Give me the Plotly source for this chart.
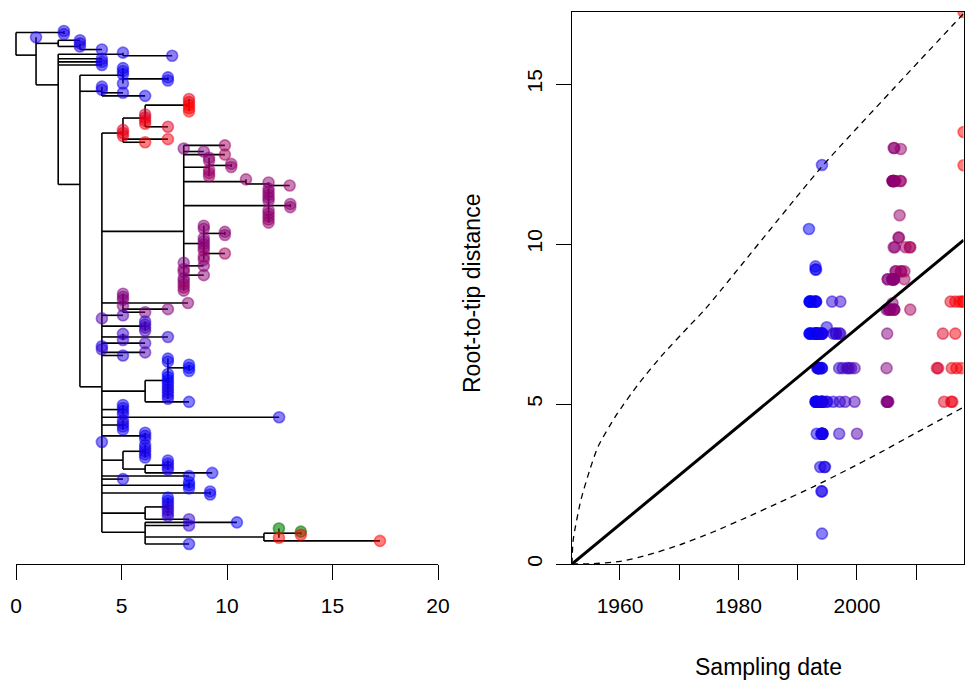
import plotly.graph_objects as go

# ---------------------------------------------------------------- data
# Tree in a Newick-like notation: a tip is "depth/date" ("depth/g" = green tip),
# an internal node is "(children)depth"; depth = root-to-node distance.
TOP_N1 = "(2.27/1994.0,2.27/1994.1)2.27"
TOP_C = "(3.03/1993.8,(3.03/1994.5,3.03/1994.6,4.07/1994.1)3.03)2.0"
TOP_FA = "(5.07/1994.2,7.4/1994.9)5.07"
TOP_FB = "4.07/1994.1,4.07/1994.2,4.07/1993.2"
TOP_F1 = "(5.07/1993.0,5.07/1993.2,5.07/1993.1,(7.2/1993.1,7.2/1993.3)7.2,5.07/1993.4)5.07"
TOP_G1 = "(4.07/1994.0,4.07/1994.1,5.07/1994.0,6.12/1993.3)4.07"

RED = ("(((8.2/2015.8,8.2/2016.6,8.2/2017.3,8.2/2017.8,8.2/2018.0)8.2,6.12/2013.5,6.12/2013.7,"
       "6.12/2016.0,6.12/2016.8,7.2/2014.5)6.12,5.07/2014.7,5.07/2015.9,5.07/2016.1,7.2/2016.6,"
       "6.12/2017.6)5.07")

PURPLE_1 = "9.9/2008.2,7.95/2005.3,8.9/2005.2,9.9/2009.0"
PURPLE_2 = ("(9.15/2006.5,9.15/2006.6,(10.2/2007.0,10.2/2007.1)10.2,9.15/2007.4,9.15/2007.5,"
            "9.15/2008.0)9.15")
PURPLE_3 = "(10.9/2007.2,(11.97/2006.5,12.97/2007.4)11.97)10.9"
PURPLE_4 = ("(11.97/2006.0,11.97/2006.1,11.97/2006.1,11.97/2006.2,11.97/2006.0,"
            "(13.0/2006.2,13.0/2006.3)13.0,11.97/2006.1,11.97/2006.2,11.97/2007.3,"
            "11.97/2006.3,11.97/2007.4)11.97")
PURPLE_5 = ("(8.9/2006.0,8.9/2006.1,(9.9/2006.2,9.9/2006.4)9.9,8.9/2006.2,8.9/2005.2,8.9/2006.0,"
            "8.9/2006.3,8.9/2006.1,9.9/2008.9,8.9/2008.0,8.9/2006.2)8.9")
PURPLE_6 = ("7.95/2005.0,8.9/2006.0,7.95/2005.6,7.95/2006.3,8.9/2006.1,7.95/2005.5,7.95/2006.2,"
            "7.95/2005.7,7.95/2009.0,7.95/2006.3")
PURPLE_SMALL = "(5.07/2005.0,5.07/2005.1,5.07/2005.3,8.15/2006.0,5.07/2005.2,7.2/2005.1,6.12/2005.0)5.07"

MID = ("5.07/1999.6,4.07/2000.0,(6.12/1997.0,6.12/1997.6,6.12/1998.3,6.12/1999.0)6.12,"
       "(5.07/1997.1,7.2/1996.4,5.07/1998.0)5.07,6.12/1998.6,4.07/1994.0,4.07/1997.0,"
       "6.12/1999.6,5.07/1996.0")
LOW_1 = ("((7.2/1993.0,7.2/1993.2,(8.2/1992.0,8.2/1992.1,8.2/1992.3)8.2,7.2/1992.0,7.2/1992.1,"
         "7.2/1992.5,7.2/1993.0,7.2/1993.2,7.2/1993.5,7.2/1994.0,7.2/1994.1,7.2/1994.2)7.2,"
         "8.2/1992.8)6.12")
LOW_2 = ("(5.07/1993.0,5.07/1993.1,5.07/1994.0,5.07/1994.1)5.07,12.47/1994.1,"
         "(5.07/1994.2,5.07/1994.8,5.07/1995.0,5.07/1993.2)5.07")
LOW_3 = "(6.12/1993.5,6.12/1993.6,6.12/1994.0)6.12,4.07/1994.2"
LOW_4 = ("((6.12/1993.4,6.12/1993.6,6.12/1994.0,6.12/1994.1,6.12/1993.5)6.12,"
         "((7.2/1993.0,7.2/1993.4,7.2/1994.0,7.2/1994.1)7.2,9.3/1993.0)6.12)5.07")
LOW_5 = "8.2/1993.1,5.07/1994.0,(8.2/1992.0,8.2/1992.1,8.2/1993.0)8.2,(9.2/1993.0,9.2/1993.1)9.2"
LOW_6 = ("((7.2/1992.0,7.2/1992.2,7.2/1993.0,7.2/1996.0,7.2/1996.5,7.2/1997.0,7.2/1997.2)7.2,"
         "8.2/1997.2)6.12")
LOW_7 = ("(10.47/1991.9,8.2/1995.8,((12.46/g,(13.5/g,13.5/2018.0)13.5,12.46/2018.0)12.46,"
         "17.25/2018.0)11.75,8.2/1993.1)6.12")

DATE_MIN, DATE_MAX = 1991.9, 2018.0

UPPER_DATES = [1951.9, 1952.1, 1953.4, 1954.9, 1956.3, 1959.4, 1963.1, 1967.0, 1971.5,
               1974.4, 1994.0, 2006.0, 2018.0]
UPPER_VALS = [0.0, 0.75, 2.0, 2.94, 3.67, 4.66, 5.62, 6.5, 7.4, 7.97, 12.4, 14.82, 17.2]
LOWER_DATES = [1951.9, 1955.0, 1960.0, 1964.5, 1970.1, 1975.7, 1981.3, 1987.0, 1992.6,
               1998.2, 2003.9, 2009.5, 2018.0]
LOWER_VALS = [0.0, 0.005, 0.08, 0.27, 0.6, 1.0, 1.45, 1.93, 2.41, 2.93, 3.48, 4.05, 4.9]
FIT_DATES = [1951.9, 2018.0]
FIT_VALS = [0.0, 10.12]

TREE_TICKS = [0, 5, 10, 15, 20]
DATE_TICKS = [1960, 1970, 1980, 1990, 2000, 2010]
DATE_TICK_TEXT = ["1960", "", "1980", "", "2000", ""]
DIST_TICKS = [0, 5, 10, 15]

# ---------------------------------------------------------------- assemble tree
TRUNK = "(" + ",".join([RED, "(" + ",".join([PURPLE_1, PURPLE_2, PURPLE_3, PURPLE_4,
                                               PURPLE_5, PURPLE_6]) + ")7.95",
                         PURPLE_SMALL, MID, LOW_1, LOW_2, LOW_3, LOW_4, LOW_5, LOW_6,
                         LOW_7]) + ")4.07"
NODE_G = "(" + TOP_F1 + "," + TOP_G1 + "," + TRUNK + ")3.03"
NODE_F = "(" + TOP_FA + "," + TOP_FB + "," + NODE_G + ")2.0"
NODE_B = "(0.95/1994.1," + TOP_C + "," + NODE_F + ")0.95"
TREE = "(" + TOP_N1 + "," + NODE_B + ")0"


def parse(s):
    pos = 0

    def atom():
        nonlocal pos
        start = pos
        while pos < len(s) and s[pos] not in ",()":
            pos += 1
        return s[start:pos]

    def node():
        nonlocal pos
        if s[pos] == "(":
            pos += 1
            kids = [node()]
            while s[pos] == ",":
                pos += 1
                kids.append(node())
            pos += 1  # ')'
            return {"depth": float(atom()), "kids": kids}
        d, lab = atom().split("/")
        return {"depth": float(d), "label": lab, "kids": []}

    return node()


root = parse(TREE)
tips = []


def layout(n):
    if not n["kids"]:
        n["y"] = len(tips)
        tips.append(n)
        return
    for k in n["kids"]:
        layout(k)
    n["y"] = sum(k["y"] for k in n["kids"]) / len(n["kids"])


layout(root)

seg_x, seg_y = [], []


def segments(n):
    if not n["kids"]:
        return
    ys = [k["y"] for k in n["kids"]]
    seg_x.extend([n["depth"], n["depth"], None])
    seg_y.extend([min(ys), max(ys), None])
    for k in n["kids"]:
        seg_x.extend([n["depth"], k["depth"], None])
        seg_y.extend([k["y"], k["y"], None])
        segments(k)


segments(root)


def tip_color(label, alpha=0.5):
    if label == "g":
        return "rgba(0,128,0,0.6)"
    f = (float(label) - DATE_MIN) / (DATE_MAX - DATE_MIN)
    f = min(1.0, max(0.0, f))
    return "rgba(%d,0,%d,%.2f)" % (round(255 * f), round(255 * (1 - f)), alpha)


tip_x = [t["depth"] for t in tips]
tip_y = [t["y"] for t in tips]
tip_c = [tip_color(t["label"]) for t in tips]
dated = [t for t in tips if t["label"] != "g"]
pt_x = [float(t["label"]) for t in dated]
pt_y = [t["depth"] for t in dated]
pt_c = [tip_color(t["label"]) for t in dated]

# ---------------------------------------------------------------- figure
W, H = 965, 686


def fx(p):
    return p / W


def fy(p):
    return 1 - p / H


FONT = dict(family="Liberation Sans, Arial, Helvetica, sans-serif", size=21, color="black")
TITLE_FONT = dict(family="Liberation Sans, Arial, Helvetica, sans-serif", size=23, color="black")
n_tips = len(tips)
per_tip = (544 - 31) / (n_tips - 1)
y_top = -(31 - 12) / per_tip
y_bot = (n_tips - 1) + (564 - 544) / per_tip
px_per_unit = (438 - 16) / 20.0
x_left = -(16 - 8) / px_per_unit

fig = go.Figure()
fig.add_trace(go.Scatter(x=seg_x, y=seg_y, mode="lines", xaxis="x", yaxis="y",
                         line=dict(color="black", width=1.6), hoverinfo="skip"))
fig.add_trace(go.Scatter(x=tip_x, y=tip_y, mode="markers", xaxis="x", yaxis="y",
                         cliponaxis=False,
                         marker=dict(size=11, color=tip_c, line=dict(color=tip_c, width=1.6))))

fig.add_trace(go.Scatter(x=pt_x, y=pt_y, mode="markers", xaxis="x2", yaxis="y2",
                         marker=dict(size=11, color=pt_c, line=dict(color=pt_c, width=1.6))))
fig.add_trace(go.Scatter(x=UPPER_DATES, y=UPPER_VALS, mode="lines", xaxis="x2", yaxis="y2",
                         line=dict(color="black", width=1.3, dash="6px,5px", shape="spline",
                                   smoothing=0.6)))
fig.add_trace(go.Scatter(x=LOWER_DATES, y=LOWER_VALS, mode="lines", xaxis="x2", yaxis="y2",
                         line=dict(color="black", width=1.3, dash="6px,5px", shape="spline",
                                   smoothing=0.6)))
fig.add_trace(go.Scatter(x=FIT_DATES, y=FIT_VALS, mode="lines", xaxis="x2", yaxis="y2",
                         line=dict(color="black", width=3)))

fig.update_layout(
    width=W, height=H, autosize=False, margin=dict(l=0, r=0, t=0, b=0, pad=0),
    paper_bgcolor="white", plot_bgcolor="white", showlegend=False, font=FONT,
    xaxis=dict(domain=[fx(8), fx(438)], range=[x_left, 20], tickvals=TREE_TICKS,
               ticks="outside", ticklen=15, tickwidth=1.2, tickcolor="black",
               showline=False, showgrid=False, zeroline=False, anchor="y",
               automargin=False, ticklabelstandoff=8, tickfont=FONT),
    yaxis=dict(domain=[fy(564), fy(12)], range=[y_bot, y_top], visible=False,
               automargin=False, anchor="x"),
    xaxis2=dict(domain=[fx(572), fx(963.6)], range=[1951.9, 2018.0], tickvals=DATE_TICKS,
                ticktext=DATE_TICK_TEXT, ticks="outside", ticklen=15, tickwidth=1.2,
                tickcolor="black", showline=True, linecolor="black", linewidth=1.2,
                mirror=True, showgrid=False, zeroline=False, anchor="y2",
                automargin=False, ticklabelstandoff=8, tickfont=FONT),
    yaxis2=dict(domain=[fy(564), fy(12)], range=[0, 17.25], tickvals=DIST_TICKS,
                ticks="outside", ticklen=15, tickwidth=1.2, tickcolor="black",
                showline=True, linecolor="black", linewidth=1.2, mirror=True,
                showgrid=False, zeroline=False, anchor="x2", tickangle=-90,
                automargin=False, ticklabelstandoff=6, tickfont=FONT),
    shapes=[dict(type="line", xref="x", yref="paper", x0=0, x1=20, y0=fy(564.5),
                 y1=fy(564.5), line=dict(color="black", width=1.2))],
    annotations=[
        dict(text="Sampling date", xref="paper", yref="paper", x=fx(768), y=fy(667),
             showarrow=False, font=TITLE_FONT, xanchor="center", yanchor="middle"),
        dict(text="Root-to-tip distance", xref="paper", yref="paper", x=fx(472), y=fy(294),
             showarrow=False, font=TITLE_FONT, textangle=-90, xanchor="center",
             yanchor="middle"),
    ],
)

fig.write_html("out.html", config={"responsive": False})
